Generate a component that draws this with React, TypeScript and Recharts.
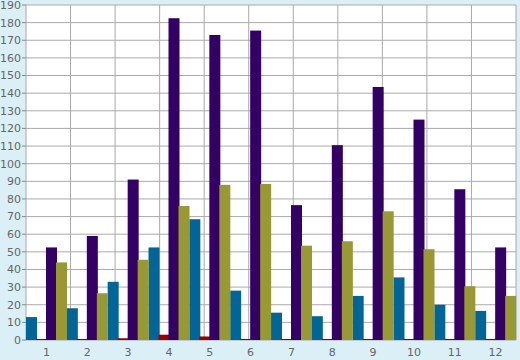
import React from 'react';
import { BarChart, Bar, XAxis, YAxis, CartesianGrid } from 'recharts';

const categories = ['1', '2', '3', '4', '5', '6', '7', '8', '9', '10', '11', '12'];
const tealValues = [13, 18, 33, 52.5, 68.5, 28, 15.5, 13.5, 25, 35.5, 20, 16.5];
const redValues = [0.6, 0.6, 1, 3, 2, 0.6, 0.6, 0.6, 0.6, 0.6, 0.6, 0.6];
const purpleValues = [52.5, 59, 91, 182.5, 173, 175.5, 76.5, 110.5, 143.5, 125, 85.5, 52.5];
const oliveValues = [44, 26.5, 45.5, 76, 88, 88.5, 53.5, 56, 73, 51.5, 30.5, 25];
const yTicks = [0, 10, 20, 30, 40, 50, 60, 70, 80, 90, 100, 110, 120, 130, 140, 150, 160, 170, 180, 190];
const boundaryTicks = [0, 1, 2, 3, 4, 5, 6, 7, 8, 9, 10, 11, 12];

const data = categories.map((c, i) => ({
  name: c,
  teal: tealValues[i],
  red: redValues[i],
  purple: purpleValues[i],
  olive: oliveValues[i],
}));

const tickStyle = { fill: '#666666', fontSize: 11, fontFamily: 'DejaVu Sans' };

const WideBar = (props: any) => {
  const { x, y, width, height, fill } = props;
  if (!height || height <= 0) return null;
  return <rect x={x} y={y} width={width + 1} height={height} fill={fill} />;
};

export default function App() {
  return (
    <div style={{ position: 'absolute', left: 0, top: 0, width: 520, height: 360, background: '#daeff6' }}>
      <BarChart
        width={520}
        height={360}
        data={data}
        margin={{ top: 5, right: 4, left: 0, bottom: 0 }}
        barCategoryGap={0}
        barGap={0}
      >
        <CartesianGrid
          xAxisId="bounds"
          yAxisId="y"
          stroke="#aaaaaa"
          strokeWidth={1}
          fill="#ffffff"
          fillOpacity={1}
        />
        <XAxis
          xAxisId="bounds"
          type="number"
          domain={[0, 12]}
          ticks={boundaryTicks}
          allowDataOverflow
          height={0}
          axisLine={false}
          tickSize={5}
          tickLine={{ stroke: '#888888' }}
          tickFormatter={() => ''}
          interval={0}
        />
        <XAxis
          xAxisId="cat"
          dataKey="name"
          height={20}
          axisLine={false}
          tickLine={false}
          tick={tickStyle}
          interval={0}
          padding={{ left: 0, right: 0 }}
        />
        <YAxis
          yAxisId="y"
          domain={[0, 190]}
          ticks={yTicks}
          width={26}
          interval={0}
          axisLine={false}
          tickSize={4}
          tickMargin={1}
          tickLine={{ stroke: '#888888' }}
          tick={tickStyle}
        />
        <Bar xAxisId="cat" yAxisId="y" dataKey="teal" fill="#006699" shape={WideBar} isAnimationActive={false} />
        <Bar xAxisId="cat" yAxisId="y" dataKey="red" fill="#990000" shape={WideBar} isAnimationActive={false} />
        <Bar xAxisId="cat" yAxisId="y" dataKey="purple" fill="#330066" shape={WideBar} isAnimationActive={false} />
        <Bar xAxisId="cat" yAxisId="y" dataKey="olive" fill="#999933" shape={WideBar} isAnimationActive={false} />
      </BarChart>
    </div>
  );
}
